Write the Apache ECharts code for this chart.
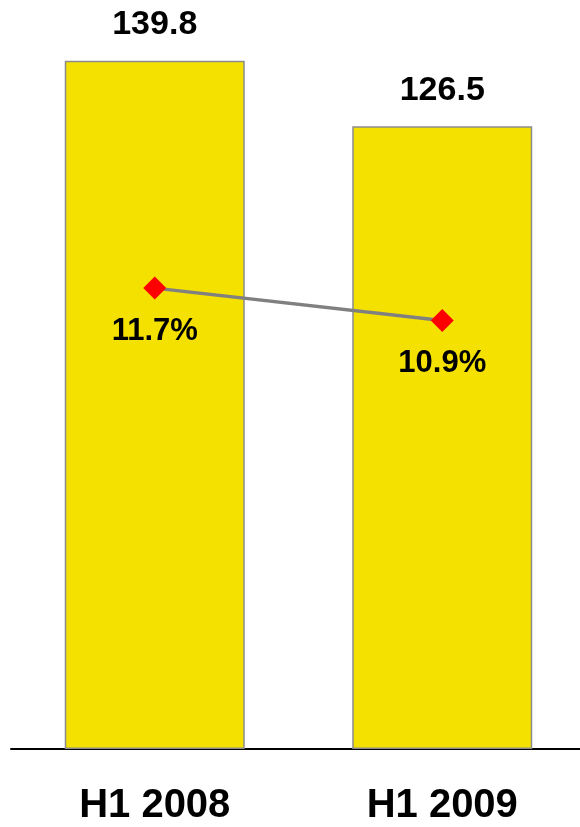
<!DOCTYPE html>
<html>
<head>
<meta charset="utf-8">
<script src="https://cdn.jsdelivr.net/npm/echarts@6/dist/echarts.min.js"></script>
<style>html,body{margin:0;padding:0;background:#fff;}#c{width:580px;height:827px;}</style>
</head>
<body>
<div id="c"></div>
<script>
const categories = ['H1 2008', 'H1 2009'];
const barValues = [139.8, 126.5];
const pctValues = [11.7, 10.9];

const chart = echarts.init(document.getElementById('c'), null, {renderer: 'canvas'});
const font = '"Liberation Sans", Arial, sans-serif';
chart.setOption({
  animation: false,
  grid: {left: 11, width: 575, top: 59.7, height: 689.3, containLabel: false, outerBoundsMode: 'none'},
  xAxis: {
    type: 'category',
    data: categories,
    axisLine: {show: true, lineStyle: {color: '#000', width: 2}},
    axisTick: {show: false},
    axisLabel: {margin: 37, fontSize: 40, fontWeight: 'bold', color: '#000', fontFamily: font}
  },
  yAxis: [
    {type: 'value', min: 0, max: 140, show: false, splitLine: {show: false}},
    {type: 'value', min: 0.32, max: 17.34, show: false, splitLine: {show: false}}
  ],
  series: [
    {
      type: 'bar',
      data: barValues,
      barWidth: 180,
      itemStyle: {color: '#F5E100', borderColor: '#8C8C8C', borderWidth: 1.5},
      label: {
        show: true, position: 'top', distance: 19,
        fontSize: 34, fontWeight: 'bold', color: '#000', fontFamily: font,
        formatter: p => p.value.toFixed(1)
      }
    },
    {
      type: 'line',
      yAxisIndex: 1,
      data: pctValues,
      symbol: 'diamond',
      symbolSize: 23,
      lineStyle: {color: '#808080', width: 3.5},
      itemStyle: {color: '#FF0000'},
      label: {
        show: true, position: 'bottom', distance: 16,
        fontSize: 31, fontWeight: 'bold', color: '#000', fontFamily: font,
        formatter: p => p.value.toFixed(1) + '%'
      }
    }
  ]
});
</script>
</body>
</html>
